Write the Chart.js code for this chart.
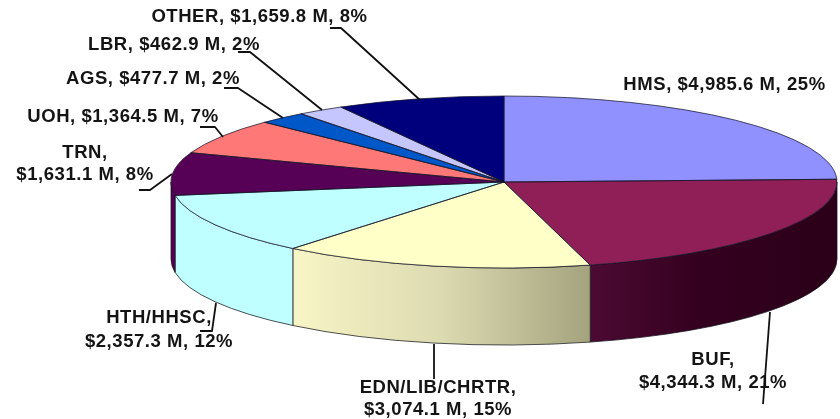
<!DOCTYPE html>
<html><head><meta charset="utf-8">
<style>html,body{margin:0;padding:0;background:#fff}#w{width:840px;height:419px;position:relative}</style>
<script src="https://cdn.jsdelivr.net/npm/chart.js@4"></script>
</head><body><div id="w"><canvas id="c"></canvas></div>
<script>
const categories=["HMS","BUF","EDN/LIB/CHRTR","HTH/HHSC","TRN","UOH","AGS","LBR","OTHER"];
const values=[4985.6,4344.3,3074.1,2357.3,1631.1,1364.5,477.7,462.9,1659.8];
const topColors=["#9090ff","#8f1f56","#ffffc8","#c0ffff","#560056","#ff7878","#0058c8","#c6c6ff","#00007c"];
const wallStops=[
 [[0,"#6a6ab8"],[1,"#6a6ab8"]],
 [[0,"#4c0a32"],[0.45,"#34001f"],[1,"#2b0018"]],
 [[0,"#f8f6c6"],[0.5,"#dcdab0"],[1,"#a3a37e"]],
 [[0,"#c0ffff"],[1,"#c0ffff"]],
 [[0,"#560056"],[1,"#560056"]]
];
const labelLines=[
 ["HMS, $4,985.6 M, 25%"],
 ["BUF,","$4,344.3 M, 21%"],
 ["EDN/LIB/CHRTR,","$3,074.1 M, 15%"],
 ["HTH/HHSC,","$2,357.3 M, 12%"],
 ["TRN,","$1,631.1 M, 8%"],
 ["UOH, $1,364.5 M, 7%"],
 ["AGS, $477.7 M, 2%"],
 ["LBR, $462.9 M, 2%"],
 ["OTHER, $1,659.8 M, 8%"]
];
const labelCenters=[[724.5,85],[713,360],[438,388],[159,318],[85,153],[123,117],[153,79],[174,45],[259.5,17]];
const labelGaps=[0,23,22,24,22,0,0,0,0];
const leaders=[
 null,
 [[770,312],[763,404]],
 [[434,344],[434,379]],
 [[216,303],[212,331],[200,331]],
 [[172,174],[150,190],[139,190]],
 [[223,137],[215,127],[200,127]],
 [[283,118],[238,88],[224,88]],
 [[322,110],[250,52],[238,52]],
 [[420,100],[341,28],[330,28]]
];
const E={cx:504,cy:182,rx:333,ry:86,depth:77};
const pie3d={
 id:"pie3d",
 beforeDatasetsDraw(chart){
  const ctx=chart.ctx,arcs=chart.getDatasetMeta(0).data;
  ctx.save();
  arcs.forEach((a,i)=>{
   const s=Math.max(a.startAngle,0),e=Math.min(a.endAngle,Math.PI);
   if(e<=s)return;
   const x0=E.cx+E.rx*Math.cos(e),x1=E.cx+E.rx*Math.cos(s);
   const g=ctx.createLinearGradient(x0,0,x1,0);
   (wallStops[i]||[[0,"#000"],[1,"#000"]]).forEach(t=>g.addColorStop(t[0],t[1]));
   ctx.beginPath();
   ctx.ellipse(E.cx,E.cy,E.rx,E.ry,0,s,e,false);
   ctx.ellipse(E.cx,E.cy+E.depth,E.rx,E.ry,0,e,s,true);
   ctx.closePath();
   ctx.fillStyle=g;ctx.fill();
   ctx.strokeStyle="rgba(20,20,30,.75)";ctx.lineWidth=1;ctx.stroke();
  });
  ctx.restore();
  const a0=arcs[0],k=a0.outerRadius;
  ctx.save();
  ctx.translate(E.cx,E.cy);
  ctx.scale(E.rx/k,E.ry/k);
  ctx.translate(-a0.x,-a0.y);
 },
 afterDatasetsDraw(chart){
  const ctx=chart.ctx,arcs=chart.getDatasetMeta(0).data;
  ctx.restore();
  ctx.save();
  ctx.strokeStyle="rgba(20,20,40,.8)";ctx.lineWidth=0.9;ctx.lineJoin="round";
  arcs.forEach(a=>{
   ctx.beginPath();
   ctx.moveTo(E.cx,E.cy);
   ctx.ellipse(E.cx,E.cy,E.rx,E.ry,0,a.startAngle,a.endAngle,false);
   ctx.closePath();ctx.stroke();
  });
  ctx.fillStyle="#141414";ctx.textAlign="center";ctx.textBaseline="middle";
  ctx.font='bold 18.5px "Liberation Sans", Arial, sans-serif';
  ctx.letterSpacing="0.55px";
  ctx.filter="blur(0.45px)";
  labelLines.forEach((ls,i)=>ls.forEach((t,j)=>{
   ctx.fillText(t,labelCenters[i][0],labelCenters[i][1]+j*labelGaps[i]);
  }));
  ctx.filter="none";
  ctx.strokeStyle="#111";ctx.lineWidth=1.8;
  leaders.forEach(p=>{if(!p)return;ctx.beginPath();p.forEach((q,n)=>n?ctx.lineTo(q[0],q[1]):ctx.moveTo(q[0],q[1]));ctx.stroke();});
  ctx.restore();
 }
};
new Chart(document.getElementById("c"),{
 type:"pie",
 data:{labels:categories,datasets:[{data:values,backgroundColor:topColors,borderWidth:0,clip:false}]},
 options:{responsive:true,maintainAspectRatio:false,animation:false,events:[],layout:{padding:0},
  plugins:{legend:{display:false},tooltip:{enabled:false},title:{display:false}}},
 plugins:[pie3d]
});
</script></body></html>
